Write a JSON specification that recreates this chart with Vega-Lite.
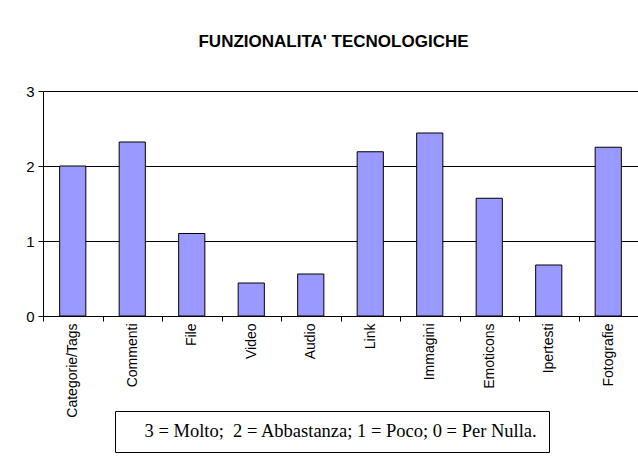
{
  "$schema": "https://vega.github.io/schema/vega-lite/v6.json",
  "width": 595,
  "height": 225,
  "autosize": {"type": "none"},
  "padding": {"left": 43, "top": 91, "right": 0, "bottom": 141},
  "background": "white",
  "title": {
    "text": "FUNZIONALITA' TECNOLOGICHE",
    "font": "Liberation Sans",
    "fontSize": 17,
    "fontWeight": "bold",
    "color": "black",
    "anchor": "middle",
    "dx": -7,
    "baseline": "alphabetic",
    "offset": 20
  },
  "data": {
    "values": [
      {"categoria": "Categorie/Tags", "valore": 2.0, "nota": "3 = Molto;\u00a0 2 = Abbastanza; 1 = Poco; 0 = Per Nulla."},
      {"categoria": "Commenti", "valore": 2.32, "nota": "3 = Molto;\u00a0 2 = Abbastanza; 1 = Poco; 0 = Per Nulla."},
      {"categoria": "File", "valore": 1.1, "nota": "3 = Molto;\u00a0 2 = Abbastanza; 1 = Poco; 0 = Per Nulla."},
      {"categoria": "Video", "valore": 0.44, "nota": "3 = Molto;\u00a0 2 = Abbastanza; 1 = Poco; 0 = Per Nulla."},
      {"categoria": "Audio", "valore": 0.56, "nota": "3 = Molto;\u00a0 2 = Abbastanza; 1 = Poco; 0 = Per Nulla."},
      {"categoria": "Link", "valore": 2.19, "nota": "3 = Molto;\u00a0 2 = Abbastanza; 1 = Poco; 0 = Per Nulla."},
      {"categoria": "Immagini", "valore": 2.44, "nota": "3 = Molto;\u00a0 2 = Abbastanza; 1 = Poco; 0 = Per Nulla."},
      {"categoria": "Emoticons", "valore": 1.57, "nota": "3 = Molto;\u00a0 2 = Abbastanza; 1 = Poco; 0 = Per Nulla."},
      {"categoria": "Ipertesti", "valore": 0.68, "nota": "3 = Molto;\u00a0 2 = Abbastanza; 1 = Poco; 0 = Per Nulla."},
      {"categoria": "Fotografie", "valore": 2.25, "nota": "3 = Molto;\u00a0 2 = Abbastanza; 1 = Poco; 0 = Per Nulla."}
    ]
  },
  "mark": {"type": "bar", "width": {"band": 0.44}, "stroke": "black", "strokeWidth": 1},
  "encoding": {
    "x": {
      "field": "categoria",
      "type": "nominal",
      "sort": null,
      "scale": {"paddingInner": 0, "paddingOuter": 0},
      "axis": {
        "title": null,
        "labelAngle": -90,
        "labelAlign": "right",
        "labelBaseline": "middle",
        "labelFont": "Liberation Sans",
        "labelFontSize": 14,
        "labelColor": "black",
        "labelPadding": 2,
        "tickBand": "extent",
        "tickSize": 5,
        "tickColor": "black",
        "domainColor": "black",
        "grid": false
      }
    },
    "y": {
      "field": "valore",
      "type": "quantitative",
      "scale": {"domain": [0, 3], "nice": false},
      "axis": {
        "title": null,
        "values": [0, 1, 2, 3],
        "labelFont": "Liberation Sans",
        "labelFontSize": 15,
        "labelColor": "black",
        "labelPadding": 4,
        "tickSize": 5,
        "tickColor": "black",
        "domainColor": "black",
        "gridColor": "black",
        "gridOpacity": 1,
        "grid": true
      }
    },
    "color": {
      "field": "nota",
      "type": "nominal",
      "scale": {"range": ["#9999FF"]},
      "legend": {
        "title": null,
        "orient": "none",
        "legendX": 72,
        "legendY": 320,
        "strokeColor": "black",
        "padding": 11,
        "symbolSize": 0,
        "symbolOpacity": 0,
        "symbolStrokeWidth": 0,
        "labelOffset": 0,
        "labelFont": "Liberation Serif",
        "labelFontSize": 18.5,
        "labelColor": "black",
        "labelLimit": 1000
      }
    }
  },
  "config": {
    "view": {"stroke": null}
  }
}
